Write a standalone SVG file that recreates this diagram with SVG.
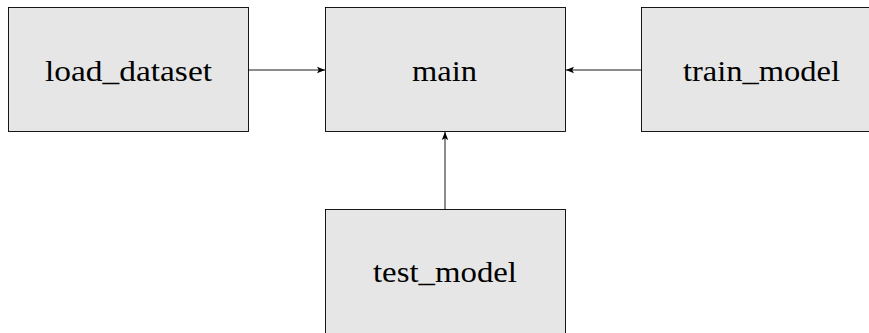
<svg xmlns="http://www.w3.org/2000/svg" width="869" height="333" viewBox="0 0 869 333">
<style>
.box{fill:#e6e6e6;stroke:#000;stroke-width:0.9}
.lbl{font-family:"Liberation Serif","DejaVu Serif",serif;font-size:30px;fill:#000;text-anchor:middle}
.edge{stroke:#000;stroke-width:0.9;fill:none;marker-end:url(#ah)}
</style>
<defs>
<marker id="ah" markerUnits="userSpaceOnUse" markerWidth="10" markerHeight="8" refX="8" refY="4" orient="auto">
<path d="M0,0.8 L8,4 L0,7.2 L1.8,4 Z" fill="#000"/>
</marker>
</defs>
<rect width="869" height="333" fill="#fff"/>
<g id="load_dataset">
<rect class="box" x="8.5" y="7.5" width="240" height="124"/>
<text class="lbl" x="128.5" y="81" textLength="167" lengthAdjust="spacingAndGlyphs">load_dataset</text>
</g>
<g id="main">
<rect class="box" x="325.5" y="7.5" width="240" height="124"/>
<text class="lbl" x="444.5" y="81" textLength="65" lengthAdjust="spacingAndGlyphs">main</text>
</g>
<g id="train_model">
<rect class="box" x="641.5" y="7.5" width="240" height="124"/>
<text class="lbl" x="761.5" y="81" textLength="157" lengthAdjust="spacingAndGlyphs">train_model</text>
</g>
<g id="test_model">
<rect class="box" x="325.5" y="209.5" width="240" height="124"/>
<text class="lbl" x="445" y="282" textLength="144" lengthAdjust="spacingAndGlyphs">test_model</text>
</g>
<g id="connectors">
<line class="edge" x1="248.5" y1="70" x2="325" y2="70"/>
<line class="edge" x1="641.5" y1="70" x2="566" y2="70"/>
<line class="edge" x1="445" y1="209.5" x2="445" y2="132"/>
</g>
</svg>
